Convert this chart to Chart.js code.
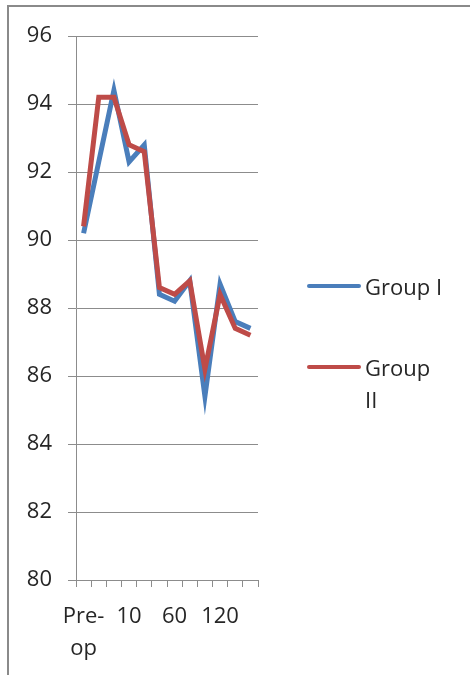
<!DOCTYPE html>
<html>
<head>
<meta charset="utf-8">
<script src="https://cdn.jsdelivr.net/npm/chart.js@4/dist/chart.umd.min.js"></script>
<style>
  html, body { margin: 0; padding: 0; background: #fff; }
  body { width: 470px; height: 675px; position: relative; overflow: hidden; font-family: "Open Sans", sans-serif; }
  #frame { position: absolute; left: 7px; top: 5px; right: 0; bottom: 0; border-top: 2px solid #8a8a8a; border-left: 2px solid #8a8a8a; }
  #wrap { position: absolute; left: 0; top: 0; width: 470px; height: 675px; }
  #legend { position: absolute; left: 307px; top: 0; }
  .item { position: absolute; left: 0; display: flex; align-items: flex-start; }
  .swatch { width: 54px; height: 4px; border-radius: 2px; margin-right: 4px; }
  .txt { width: 82px; font-size: 22px; line-height: 32px; color: #262626; }
</style>
</head>
<body>
<div id="frame"></div>
<div id="wrap"><canvas id="chart" width="470" height="675"></canvas></div>
<div id="legend"></div>
<script>
// ---- data ----
const categories = ['Pre-op', '1', '5', '10', '20', '30', '60', '75', '90', '120', '150', '180'];
const groupI  = [90.2, 92.3, 94.4, 92.3, 92.8, 88.4, 88.2, 88.8, 85.4, 88.7, 87.6, 87.4];
const groupII = [90.4, 94.2, 94.2, 92.8, 92.6, 88.6, 88.4, 88.8, 86.2, 88.4, 87.4, 87.2];
const yTicks = [80, 82, 84, 86, 88, 90, 92, 94, 96];

const axisGray = '#8c8c8c';
const textColor = '#262626';
const font = { family: '"Open Sans", sans-serif', size: 22 };

const chart = new Chart(document.getElementById('chart'), {
  type: 'line',
  data: {
    labels: categories,
    datasets: [
      // red is drawn over blue, as in the original
      { label: 'Group I', data: groupI, borderColor: '#4a7ebb', borderWidth: 5, pointRadius: 0, tension: 0, order: 2 },
      { label: 'Group II', data: groupII, borderColor: '#be4b48', borderWidth: 5, pointRadius: 0, tension: 0, order: 1 }
    ]
  },
  options: {
    responsive: false,
    animation: false,
    layout: { padding: { top: 36, left: 0, right: 212, bottom: 0 } },
    plugins: { legend: { display: false }, tooltip: { enabled: false } },
    scales: {
      x: {
        offset: true,
        grid: { offset: true, drawOnChartArea: false, drawTicks: true, tickLength: 7, color: axisGray },
        border: { display: false },
        ticks: {
          autoSkip: false, maxRotation: 0, color: textColor, font: { ...font, lineHeight: 32 / 22 }, padding: 14,
          callback(v, i) {
            if (i % 3 !== 0) return '';
            const s = categories[i];
            return s.includes('-') ? [s.slice(0, s.indexOf('-') + 1), s.slice(s.indexOf('-') + 1)] : s;
          }
        },
        afterFit(scale) { scale.height = 95; }
      },
      y: {
        min: yTicks[0], max: yTicks[yTicks.length - 1],
        afterBuildTicks(scale) { scale.ticks = yTicks.map(v => ({ value: v })); },
        grid: { color: axisGray, tickLength: 8 },
        border: { color: axisGray },
        ticks: { color: textColor, font, padding: 16 },
        afterFit(scale) { scale.width = 76; }
      }
    }
  }
});

// ---- legend with wrapped labels, built from the datasets ----
const legendEl = document.getElementById('legend');
const rowTops = [270, 351];
chart.data.datasets.forEach((ds, i) => {
  const item = document.createElement('div');
  item.className = 'item';
  item.style.top = rowTops[i] + 'px';
  item.innerHTML = `<div class="swatch" style="background:${ds.borderColor};margin-top:14px"></div><div class="txt">${ds.label}</div>`;
  legendEl.appendChild(item);
});
</script>
</body>
</html>
